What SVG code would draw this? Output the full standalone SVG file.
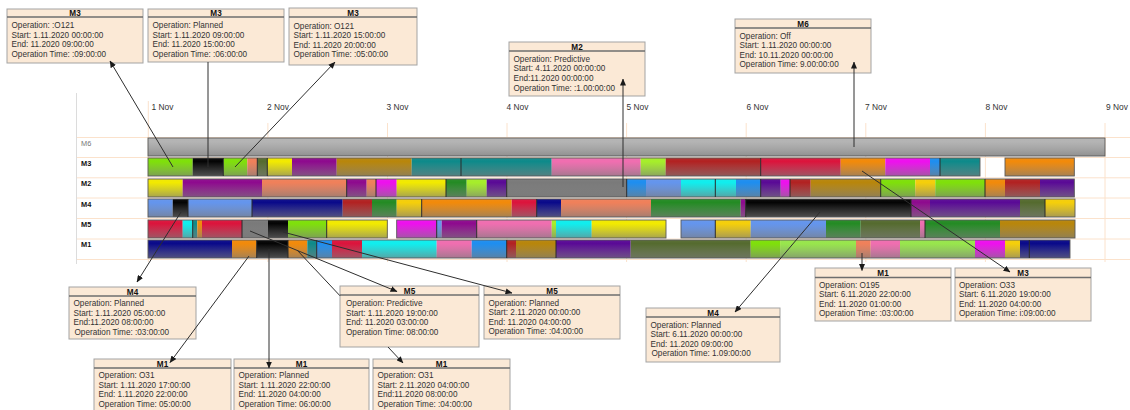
<svg xmlns="http://www.w3.org/2000/svg" width="1130" height="410" viewBox="0 0 1130 410">
<defs>
  <linearGradient id="shade" x1="0" y1="0" x2="0" y2="1">
    <stop offset="0" stop-color="#ffffff" stop-opacity="0.05"/>
    <stop offset="0.2" stop-color="#8a8a8a" stop-opacity="0"/>
    <stop offset="1" stop-color="#7a7a7a" stop-opacity="0.62"/>
  </linearGradient>
  <marker id="arr" markerWidth="7" markerHeight="6" refX="6.5" refY="3" orient="auto" markerUnits="userSpaceOnUse">
    <path d="M0,0 L7,3 L0,6 Z" fill="#1a1a1a"/>
  </marker>
  <style>
    text { font-family: "Liberation Sans", Arial, sans-serif; }
    .grid { stroke: #fbe2cc; stroke-width: 1; fill: none; }
    .axis { stroke: #dcdcdc; stroke-width: 1; }
    .day { font-size: 8.4px; fill: #333; }
    .rl { font-size: 7.4px; font-weight: bold; fill: #111; }
    .rl6 { font-size: 7.4px; fill: #777; }
    .piece { fill: url(#shade); stroke: #5a5a5a; stroke-width: 0.9; }
    .sep { stroke: #2a2a2a; stroke-width: 1; }
    .box { fill: #fbe9d6; stroke: #a3a3a3; stroke-width: 1; }
    .hdr { stroke: #6e6e6e; stroke-width: 1.4; }
    .ttl { font-size: 8.2px; font-weight: bold; fill: #111; text-anchor: middle; }
    .tx { font-size: 8.2px; fill: #333; }
    .con { stroke: #2e2e2e; stroke-width: 1; fill: none; }
    .lg { fill: #7fe00a; } .lg2 { fill: #98e64c; } .bk { fill: #050505; } .co { fill: #f0805a; }
    .do { fill: #556b2f; } .ye { fill: #f2ea00; } .pu { fill: #8e0a8e; } .gr { fill: #b8860b; }
    .te { fill: #0e8a8a; } .hp { fill: #f06eb0; } .yg { fill: #a6ee2a; } .fb { fill: #b22222; }
    .cr { fill: #dc143c; } .or { fill: #f28a0a; } .mg { fill: #ee10ee; } .db { fill: #1e8ef0; }
    .in { fill: #5a0a96; } .cf { fill: #6495ed; } .cy { fill: #10eeee; } .nv { fill: #0a0a8a; }
    .fg { fill: #248b24; } .go { fill: #f5cf0a; } .gy { fill: #7a7a7a; } .m6 { fill: #b4b4b4; }
  </style>
</defs>

<rect width="1130" height="410" fill="#ffffff"/>

<!-- timeline frame -->
<g id="timeline">
  <line class="axis" x1="76.5" y1="93" x2="76.5" y2="264"/>
  <g class="grid">
    <line x1="77" y1="137.5" x2="1130" y2="137.5"/>
    <line x1="77" y1="157.5" x2="1130" y2="157.5"/>
    <line x1="77" y1="177.8" x2="1130" y2="177.8"/>
    <line x1="77" y1="198" x2="1130" y2="198"/>
    <line x1="77" y1="218.5" x2="1130" y2="218.5"/>
    <line x1="77" y1="239" x2="1130" y2="239"/>
    <line x1="77" y1="259.5" x2="1130" y2="259.5"/>
    <line x1="148.3" y1="101" x2="148.3" y2="262"/>
    <line x1="267.9" y1="123" x2="267.9" y2="262"/>
    <line x1="387.5" y1="123" x2="387.5" y2="262"/>
    <line x1="507" y1="123" x2="507" y2="262"/>
    <line x1="626.6" y1="123" x2="626.6" y2="262"/>
    <line x1="746.2" y1="123" x2="746.2" y2="262"/>
    <line x1="865.8" y1="123" x2="865.8" y2="262"/>
    <line x1="985.4" y1="123" x2="985.4" y2="262"/>
    <line x1="1105" y1="123" x2="1105" y2="262"/>
  </g>
  <text class="day" x="151.5" y="110">1 Nov</text>
  <text class="day" x="267" y="110">2 Nov</text>
  <text class="day" x="386.5" y="110">3 Nov</text>
  <text class="day" x="506.5" y="110">4 Nov</text>
  <text class="day" x="626.5" y="109.5">5 Nov</text>
  <text class="day" x="746.5" y="110">6 Nov</text>
  <text class="day" x="865" y="110">7 Nov</text>
  <text class="day" x="985.5" y="109.5">8 Nov</text>
  <text class="day" x="1106" y="110">9 Nov</text>
  <text class="rl6" x="81" y="145.5">M6</text>
  <text class="rl" x="81" y="165.5">M3</text>
  <text class="rl" x="81" y="186">M2</text>
  <text class="rl" x="81" y="206.5">M4</text>
  <text class="rl" x="81" y="227">M5</text>
  <text class="rl" x="81" y="247">M1</text>
</g>

<!-- machine M6 -->
<g id="row-m6">
  <rect class="m6" x="148" y="138" width="957" height="18"/>
  <rect class="piece" x="148" y="138" width="957" height="18"/>
</g>

<!-- machine M3 -->
<g id="row-m3">
  <g transform="translate(0,158)">
    <rect class="lg" x="148" width="44.7" height="18"/>
    <rect class="bk" x="192.7" width="30.6" height="18"/>
    <rect class="lg" x="223.3" width="24" height="18"/>
    <rect class="co" x="247.3" width="10" height="18"/>
    <rect class="do" x="257.3" width="10" height="18"/>
    <rect class="ye" x="267.3" width="24.7" height="18"/>
    <rect class="pu" x="292" width="44.7" height="18"/>
    <rect class="gr" x="336.7" width="75" height="18"/>
    <rect class="te" x="411.7" width="49.3" height="18"/>
    <rect class="te" x="461" width="90.7" height="18"/>
    <rect class="hp" x="551.7" width="89" height="18"/>
    <rect class="yg" x="640.7" width="25" height="18"/>
    <rect class="fb" x="665.7" width="95" height="18"/>
    <rect class="cr" x="760.7" width="80" height="18"/>
    <rect class="or" x="840.7" width="44.6" height="18"/>
    <rect class="mg" x="885.3" width="44.7" height="18"/>
    <rect class="db" x="930" width="10" height="18"/>
    <rect class="te" x="940" width="40" height="18"/>
    <rect class="or" x="1005" width="69.3" height="18"/>
    <rect class="piece" x="148" width="832" height="18"/>
    <rect class="piece" x="1005" width="69.3" height="18"/>
    <path class="sep" d="M223.3,0V18M257.3,0V18M267.3,0V18M461,0V18M760.7,0V18M940,0V18"/>
  </g>
</g>

<!-- machine M2 -->
<g id="row-m2">
  <g transform="translate(0,179)">
    <rect class="ye" x="148" width="34.7" height="18"/>
    <rect class="pu" x="182.7" width="79.3" height="18"/>
    <rect class="co" x="262" width="84.7" height="18"/>
    <rect class="pu" x="346.7" width="20" height="18"/>
    <rect class="co" x="366.7" width="9.3" height="18"/>
    <rect class="mg" x="376" width="20.7" height="18"/>
    <rect class="ye" x="396.7" width="49.3" height="18"/>
    <rect class="fg" x="446" width="20.7" height="18"/>
    <rect class="yg" x="466.7" width="20" height="18"/>
    <rect class="in" x="486.7" width="20" height="18"/>
    <rect class="gy" x="506.7" width="120" height="18"/>
    <rect class="db" x="626.7" width="19.3" height="18"/>
    <rect class="cf" x="646" width="35" height="18"/>
    <rect class="cy" x="681" width="55" height="18"/>
    <rect class="db" x="736" width="24.7" height="18"/>
    <rect class="in" x="760.7" width="20" height="18"/>
    <rect class="mg" x="780.7" width="9.3" height="18"/>
    <rect class="fb" x="790" width="20.7" height="18"/>
    <rect class="gr" x="810.7" width="70" height="18"/>
    <rect class="lg" x="880.7" width="34.6" height="18"/>
    <rect class="go" x="915.3" width="20" height="18"/>
    <rect class="lg" x="935.3" width="49.7" height="18"/>
    <rect class="or" x="985" width="20" height="18"/>
    <rect class="fb" x="1005" width="35" height="18"/>
    <rect class="in" x="1040" width="34.3" height="18"/>
    <rect class="piece" x="148" width="926.3" height="18"/>
    <path class="sep" d="M346.7,0V18M376,0V18M446,0V18M506.7,0V18M626.7,0V18M715.3,0V18M760.7,0V18M790,0V18M880.7,0V18M985,0V18"/>
  </g>
</g>

<!-- machine M4 -->
<g id="row-m4">
  <g transform="translate(0,199)">
    <rect class="cf" x="148" width="24.7" height="18"/>
    <rect class="bk" x="172.7" width="15.3" height="18"/>
    <rect class="cf" x="188" width="64" height="18"/>
    <rect class="nv" x="252" width="90.7" height="18"/>
    <rect class="fb" x="342.7" width="29.3" height="18"/>
    <rect class="fg" x="372" width="24.7" height="18"/>
    <rect class="go" x="396.7" width="25" height="18"/>
    <rect class="or" x="421.7" width="90" height="18"/>
    <rect class="cr" x="511.7" width="25" height="18"/>
    <rect class="nv" x="536.7" width="24.3" height="18"/>
    <rect class="co" x="561" width="90" height="18"/>
    <rect class="fg" x="651" width="89.7" height="18"/>
    <rect class="pu" x="740.7" width="5" height="18"/>
    <rect class="bk" x="745.7" width="165.3" height="18"/>
    <rect class="pu" x="911" width="19" height="18"/>
    <rect class="in" x="930" width="90" height="18"/>
    <rect class="do" x="1020" width="25" height="18"/>
    <rect class="go" x="1045" width="30" height="18"/>
    <rect class="piece" x="148" width="927" height="18"/>
    <path class="sep" d="M188,0V18M252,0V18M421.7,0V18M536.7,0V18M745.7,0V18M911,0V18M1045,0V18"/>
  </g>
</g>

<!-- machine M5 -->
<g id="row-m5">
  <g transform="translate(0,220)">
    <rect class="cr" x="148" width="34.7" height="18"/>
    <rect class="cy" x="182.7" width="10" height="18"/>
    <rect class="te" x="192.7" width="4.6" height="18"/>
    <rect class="or" x="197.3" width="4.7" height="18"/>
    <rect class="cr" x="202" width="40" height="18"/>
    <rect class="gy" x="242" width="26" height="18"/>
    <rect class="bk" x="268" width="20" height="18"/>
    <rect class="lg" x="288" width="38.7" height="18"/>
    <rect class="ye" x="326.7" width="60.6" height="18"/>
    <rect class="mg" x="396.7" width="40" height="18"/>
    <rect class="cf" x="436.7" width="5" height="18"/>
    <rect class="pu" x="441.7" width="35" height="18"/>
    <rect class="hp" x="476.7" width="75" height="18"/>
    <rect class="yg" x="551.7" width="4.3" height="18"/>
    <rect class="cy" x="556" width="35.7" height="18"/>
    <rect class="ye" x="591.7" width="74.3" height="18"/>
    <rect class="cf" x="681" width="34.3" height="18"/>
    <rect class="go" x="715.3" width="35.4" height="18"/>
    <rect class="cf" x="750.7" width="75.3" height="18"/>
    <rect class="fg" x="826" width="34.7" height="18"/>
    <rect class="do" x="860.7" width="59.3" height="18"/>
    <rect class="hp" x="920" width="5" height="18"/>
    <rect class="fg" x="925" width="75" height="18"/>
    <rect class="gr" x="1000" width="75" height="18"/>
    <rect class="piece" x="148" width="239.3" height="18"/>
    <rect class="piece" x="396.7" width="269.3" height="18"/>
    <rect class="piece" x="681" width="394" height="18"/>
    <path class="sep" d="M192.7,0V18M242,0V18M326.7,0V18M436.7,0V18M476.7,0V18M715.3,0V18M925,0V18"/>
  </g>
</g>

<!-- machine M1 -->
<g id="row-m1">
  <g transform="translate(0,240)">
    <rect class="nv" x="148" width="84" height="18"/>
    <rect class="or" x="232" width="24.7" height="18"/>
    <rect class="bk" x="256.7" width="31.3" height="18"/>
    <rect class="or" x="288" width="19.3" height="18"/>
    <rect class="te" x="307.3" width="9.4" height="18"/>
    <rect class="db" x="316.7" width="15.3" height="18"/>
    <rect class="cr" x="332" width="30" height="18"/>
    <rect class="cy" x="362" width="74.7" height="18"/>
    <rect class="hp" x="436.7" width="35" height="18"/>
    <rect class="db" x="471.7" width="35" height="18"/>
    <rect class="fb" x="506.7" width="9.3" height="18"/>
    <rect class="gr" x="516" width="40" height="18"/>
    <rect class="in" x="556" width="74.7" height="18"/>
    <rect class="do" x="630.7" width="120" height="18"/>
    <rect class="lg" x="750.7" width="30" height="18"/>
    <rect class="lg2" x="780.7" width="75.3" height="18"/>
    <rect class="co" x="856" width="14.7" height="18"/>
    <rect class="hp" x="870.7" width="29.3" height="18"/>
    <rect class="lg2" x="900" width="75" height="18"/>
    <rect class="mg" x="975" width="30" height="18"/>
    <rect class="go" x="1005" width="15" height="18"/>
    <rect class="nv" x="1020" width="50" height="18"/>
    <rect class="piece" x="148" width="922" height="18"/>
    <path class="sep" d="M256.7,0V18M288,0V18M316.7,0V18M506.7,0V18M556,0V18M1029.3,0V18"/>
  </g>
</g>

<!-- operation callouts -->
<g id="c-m3-o121-a" transform="translate(7,9)">
  <rect class="box" width="136" height="54"/>
  <line class="hdr" x1="0" y1="8" x2="136" y2="8"/>
  <text class="ttl" x="68" y="7">M3</text>
  <text class="tx" x="4.5" y="19">Operation: :O121</text>
  <text class="tx" x="4.5" y="28.5">Start: 1.11.2020 00:00:00</text>
  <text class="tx" x="4.5" y="38">End: 11.2020 09:00:00</text>
  <text class="tx" x="4.5" y="47.5">Operation Time: :09:00:00</text>
</g>
<g id="c-m3-planned" transform="translate(148,9)">
  <rect class="box" width="136" height="53"/>
  <line class="hdr" x1="0" y1="8" x2="136" y2="8"/>
  <text class="ttl" x="68" y="7">M3</text>
  <text class="tx" x="4.5" y="19">Operation: Planned</text>
  <text class="tx" x="4.5" y="28.5">Start: 1.11.2020 09:00:00</text>
  <text class="tx" x="4.5" y="38">End: 11.2020 15:00:00</text>
  <text class="tx" x="4.5" y="47.5">Operation Time: :06:00:00</text>
</g>
<g id="c-m3-o121-b" transform="translate(289,8)">
  <rect class="box" width="128" height="57"/>
  <line class="hdr" x1="0" y1="9" x2="128" y2="9"/>
  <text class="ttl" x="64" y="8">M3</text>
  <text class="tx" x="4.5" y="20.5">Operation: O121</text>
  <text class="tx" x="4.5" y="30">Start: 1.11.2020 15:00:00</text>
  <text class="tx" x="4.5" y="39.5">End: 11.2020 20:00:00</text>
  <text class="tx" x="4.5" y="49">Operation Time: :05:00:00</text>
</g>
<g id="c-m2-predictive" transform="translate(509,42)">
  <rect class="box" width="136" height="54"/>
  <line class="hdr" x1="0" y1="9" x2="136" y2="9"/>
  <text class="ttl" x="68" y="7.5">M2</text>
  <text class="tx" x="4.5" y="19.5">Operation: Predictive</text>
  <text class="tx" x="4.5" y="29">Start: 4.11.2020 00:00:00</text>
  <text class="tx" x="4.5" y="38.5">End:11.2020 00:00:00</text>
  <text class="tx" x="4.5" y="48.5">Operation Time: :1.00:00:00</text>
</g>
<g id="c-m6-off" transform="translate(735,19)">
  <rect class="box" width="136" height="54"/>
  <line class="hdr" x1="0" y1="9" x2="136" y2="9"/>
  <text class="ttl" x="68" y="7.5">M6</text>
  <text class="tx" x="4.5" y="19.5">Operation: Off</text>
  <text class="tx" x="4.5" y="29">Start: 1.11.2020 00:00:00</text>
  <text class="tx" x="4.5" y="38.5">End: 10.11.2020 00:00:00</text>
  <text class="tx" x="4.5" y="48">Operation Time: 9.00:00:00</text>
</g>
<g id="c-m4-planned-a" transform="translate(69,287)">
  <rect class="box" width="127" height="52"/>
  <line class="hdr" x1="0" y1="9" x2="127" y2="9"/>
  <text class="ttl" x="63.5" y="7.5">M4</text>
  <text class="tx" x="4.5" y="19">Operation: Planned</text>
  <text class="tx" x="4.5" y="28.5">Start: 1.11.2020 05:00:00</text>
  <text class="tx" x="4.5" y="38">End:11.2020 08:00:00</text>
  <text class="tx" x="5.5" y="47.5">Operation Time: :03:00:00</text>
</g>
<g id="c-m5-predictive" transform="translate(340,286)">
  <rect class="box" width="139" height="61"/>
  <line class="hdr" x1="0" y1="9" x2="139" y2="9"/>
  <text class="ttl" x="69.5" y="7.5">M5</text>
  <text class="tx" x="6" y="20">Operation: Predictive</text>
  <text class="tx" x="6" y="29.5">Start: 1.11.2020 19:00:00</text>
  <text class="tx" x="6" y="39">End: 11.2020 03:00:00</text>
  <text class="tx" x="6" y="49">Operation Time: 08:00:00</text>
</g>
<g id="c-m5-planned" transform="translate(484,286)">
  <rect class="box" width="136" height="53"/>
  <line class="hdr" x1="0" y1="9" x2="136" y2="9"/>
  <text class="ttl" x="68" y="7.5">M5</text>
  <text class="tx" x="4.5" y="19.5">Operation: Planned</text>
  <text class="tx" x="4.5" y="29">Start: 2.11.2020 00:00:00</text>
  <text class="tx" x="4.5" y="38.5">End: 11.2020 04:00:00</text>
  <text class="tx" x="4.5" y="48">Operation Time: :04:00:00</text>
</g>
<g id="c-m4-planned-b" transform="translate(646,308)">
  <rect class="box" width="134" height="54"/>
  <line class="hdr" x1="0" y1="9" x2="134" y2="9"/>
  <text class="ttl" x="67" y="7.5">M4</text>
  <text class="tx" x="4.5" y="19.5">Operation: Planned</text>
  <text class="tx" x="4.5" y="29">Start: 6.11.2020 00:00:00</text>
  <text class="tx" x="4.5" y="38.5">End: 11.2020 09:00:00</text>
  <text class="tx" x="5.5" y="48">Operation Time: 1.09:00:00</text>
</g>
<g id="c-m1-o195" transform="translate(815,268)">
  <rect class="box" width="136" height="53"/>
  <line class="hdr" x1="0" y1="9.5" x2="136" y2="9.5"/>
  <text class="ttl" x="68" y="8">M1</text>
  <text class="tx" x="4" y="19.5">Operation: O195</text>
  <text class="tx" x="4" y="29">Start: 6.11.2020 22:00:00</text>
  <text class="tx" x="4" y="38.5">End: 11.2020 01:00:00</text>
  <text class="tx" x="4" y="48">Operation Time: :03:00:00</text>
</g>
<g id="c-m3-o33" transform="translate(955,268)">
  <rect class="box" width="136" height="53"/>
  <line class="hdr" x1="0" y1="9.5" x2="136" y2="9.5"/>
  <text class="ttl" x="68" y="8">M3</text>
  <text class="tx" x="4" y="19.5">Operation: O33</text>
  <text class="tx" x="4" y="29">Start: 6.11.2020 19:00:00</text>
  <text class="tx" x="4" y="38.5">End: 11.2020 04:00:00</text>
  <text class="tx" x="4" y="48">Operation Time: i:09:00:00</text>
</g>
<g id="c-m1-o31-a" transform="translate(94,359)">
  <rect class="box" width="137" height="54"/>
  <line class="hdr" x1="0" y1="9" x2="137" y2="9"/>
  <text class="ttl" x="68.5" y="7.5">M1</text>
  <text class="tx" x="4.5" y="19">Operation: O31</text>
  <text class="tx" x="4.5" y="28.5">Start: 1.11.2020 17:00:00</text>
  <text class="tx" x="4.5" y="38">End: 1.11.2020 22:00:00</text>
  <text class="tx" x="4.5" y="47.5">Operation Time: 05:00:00</text>
</g>
<g id="c-m1-planned" transform="translate(234,359)">
  <rect class="box" width="135" height="54"/>
  <line class="hdr" x1="0" y1="9" x2="135" y2="9"/>
  <text class="ttl" x="67.5" y="7.5">M1</text>
  <text class="tx" x="4.5" y="18.5">Operation: Planned</text>
  <text class="tx" x="4.5" y="28.5">Start: 1.11.2020 22:00:00</text>
  <text class="tx" x="4.5" y="38">End: 11.2020 04:00:00</text>
  <text class="tx" x="4.5" y="47.5">Operation Time:  06:00:00</text>
</g>
<g id="c-m1-o31-b" transform="translate(373,359)">
  <rect class="box" width="137" height="54"/>
  <line class="hdr" x1="0" y1="9" x2="137" y2="9"/>
  <text class="ttl" x="68.5" y="7.5">M1</text>
  <text class="tx" x="4.5" y="19">Operation: O31</text>
  <text class="tx" x="4.5" y="28.5">Start: 2.11.2020 04:00:00</text>
  <text class="tx" x="4.5" y="38">End:11.2020 08:00:00</text>
  <text class="tx" x="4.5" y="48">Operation Time: :04:00:00</text>
</g>

<!-- leader lines from each bar segment to its callout -->
<g id="connectors">
  <line class="con" x1="173" y1="167" x2="110" y2="61" marker-end="url(#arr)"/>
  <line class="con" x1="208" y1="167" x2="208" y2="62"/>
  <line class="con" x1="235" y1="167" x2="335" y2="62" marker-end="url(#arr)"/>
  <line class="con" x1="623" y1="187" x2="623" y2="79" marker-end="url(#arr)"/>
  <line class="con" x1="854" y1="147" x2="854" y2="62" marker-end="url(#arr)"/>
  <line class="con" x1="181" y1="212" x2="137" y2="282" marker-end="url(#arr)"/>
  <line class="con" x1="250" y1="231" x2="397" y2="291.5" marker-end="url(#arr)"/>
  <line class="con" x1="283" y1="232" x2="512" y2="293" marker-end="url(#arr)"/>
  <line class="con" x1="820" y1="212" x2="735" y2="312" marker-end="url(#arr)"/>
  <line class="con" x1="862" y1="253" x2="862" y2="270.5" marker-end="url(#arr)"/>
  <line class="con" x1="862" y1="171" x2="1010" y2="272" marker-end="url(#arr)"/>
  <line class="con" x1="249" y1="256" x2="170" y2="362.5" marker-end="url(#arr)"/>
  <line class="con" x1="269" y1="249" x2="269" y2="368" marker-end="url(#arr)"/>
  <path class="con" d="M297,250 L340,295.8 M388,347 L403,363" marker-end="url(#arr)"/>
</g>
</svg>
